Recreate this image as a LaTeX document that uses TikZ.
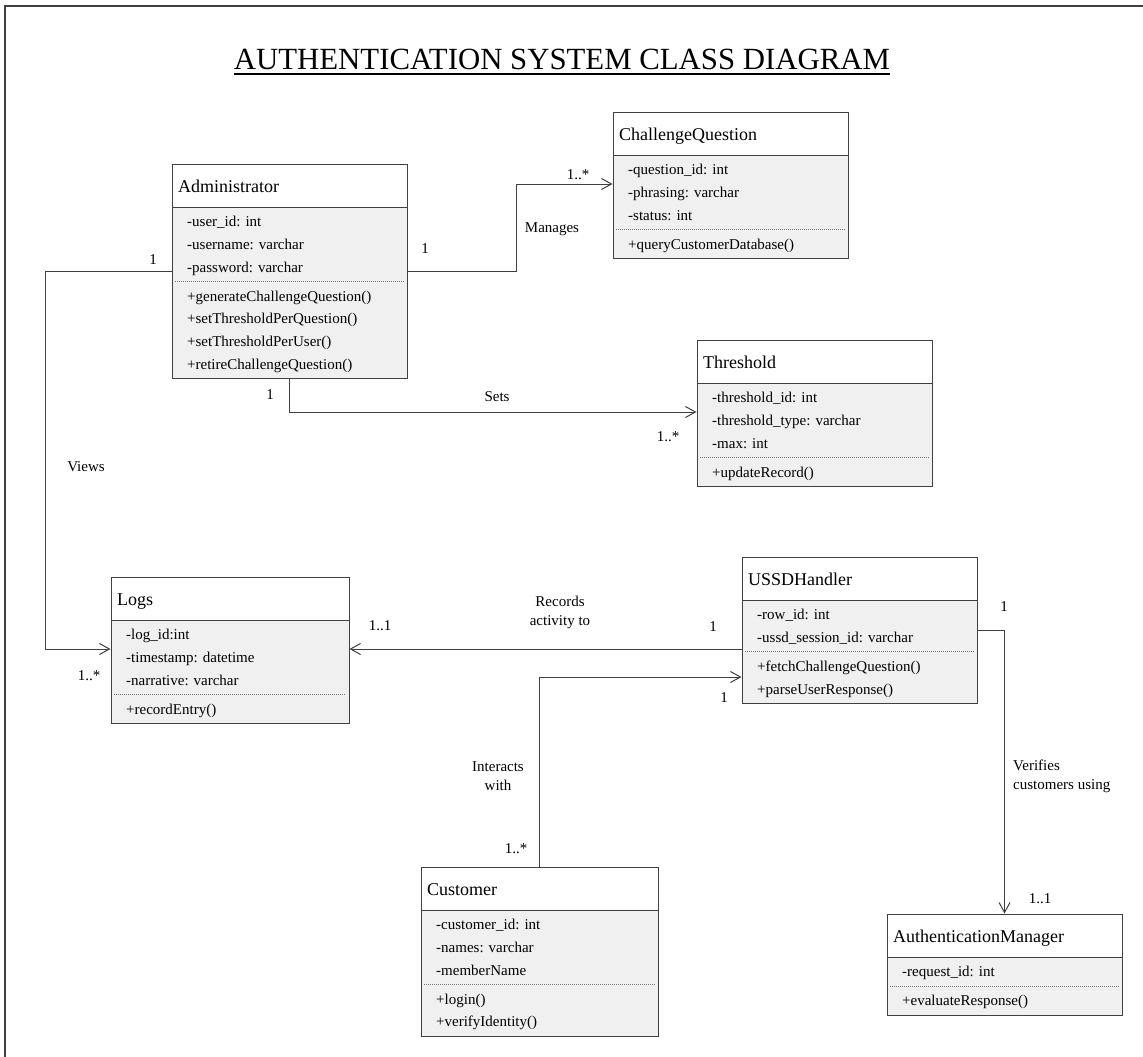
\documentclass[tikz,border=0pt]{standalone}
\usepackage{fontspec}
\setmainfont{Liberation Serif}
\usetikzlibrary{arrows.meta,fit,calc}
\definecolor{bodygray}{HTML}{F0F0F0}
\definecolor{linegray}{HTML}{404040}

\tikzset{
  classframe/.style={draw=linegray, line width=1pt, inner sep=0pt},
  classtitle/.style={font=\fontsize{18}{21}\selectfont, anchor=base west, inner sep=0pt},
  member/.style={font=\fontsize{15}{18}\selectfont, anchor=base west, inner sep=0pt},
  lbl/.style={font=\fontsize{15}{19}\selectfont, inner sep=0pt, align=center},
  assoc/.style={draw=linegray, line width=1pt,
    -{Straight Barb[length=10pt,width=11pt,line width=1pt]}},
}

% \umlclass{name}{left}{top}{right}{#attributes}{#methods}{title}{attributes}{methods}
\newcommand\umlclass[9]{%
  \pgfmathsetmacro\yHead{#3+43}%
  \pgfmathsetmacro\yDiv{\yHead+#5*22.7+6.5}%
  \pgfmathsetmacro\yBot{\yDiv+#6*22.7+6.5}%
  \fill[white] (#2,#3) rectangle (#4,\yHead);
  \fill[bodygray] (#2,\yHead) rectangle (#4,\yBot);
  \draw[linegray, line width=1pt] (#2,\yHead) -- (#4,\yHead);
  \draw[black!55, line width=1pt, dash pattern=on 1pt off 1pt] (#2+3,\yDiv) -- (#4-3,\yDiv);
  \node[classframe, fit={(#2,#3) (#4,\yBot)}] (#1) {};
  \node[classtitle] (#1-title) at (#2+6,#3+28) {#7};
  \foreach \m [count=\i] in {#8}
    \node[member] (#1-a\i) at (#2+15,\yHead+3.25+22.7*\i-11.35+5) {\m};
  \foreach \m [count=\i] in {#9}
    \node[member] (#1-m\i) at (#2+15,\yDiv+3.25+22.7*\i-11.35+5) {\m};
}

\begin{document}
\begin{tikzpicture}[x=1pt,y=-1pt]
\useasboundingbox (0,0) rectangle (1143,1057);
\fill[white] (0,0) rectangle (1143,1057);

% page frame
\draw[linegray, line width=1.5pt] (5,1057) -- (5,6) -- (1143,6);

% heading
\node[font=\fontsize{30.8}{36}\selectfont, anchor=base, inner sep=0pt] (title) at (562,70)
  {AUTHENTICATION SYSTEM CLASS DIAGRAM};
\draw[black, line width=1.2pt] ([yshift=-4pt]title.base west) -- ([yshift=-4pt]title.base east);

% classes
\umlclass{adm}{172}{164}{407}{3}{4}{Administrator}
  {-user\_id: int, -username: varchar, -password: varchar}
  {+generateChallengeQuestion(), +setThresholdPerQuestion(), +setThresholdPerUser(), +retireChallengeQuestion()}

\umlclass{cq}{613}{112}{848}{3}{1}{ChallengeQuestion}
  {-question\_id: int, -phrasing: varchar, -status: int}
  {+queryCustomerDatabase()}

\umlclass{thr}{697}{340}{932}{3}{1}{Threshold}
  {-threshold\_id: int, -threshold\_type: varchar, -max: int}
  {+updateRecord()}

\umlclass{logs}{111}{577}{349}{3}{1}{Logs}
  {-log\_id:int, -timestamp: datetime, -narrative: varchar}
  {+recordEntry()}

\umlclass{ussd}{742}{557}{977}{2}{2}{USSDHandler}
  {-row\_id: int, -ussd\_session\_id: varchar}
  {+fetchChallengeQuestion(), +parseUserResponse()}

\umlclass{cust}{421}{867}{658}{3}{2}{Customer}
  {-customer\_id: int, -names: varchar, -memberName}
  {+login(), +verifyIdentity()}

\umlclass{am}{887}{914}{1122}{1}{1}{AuthenticationManager}
  {-request\_id: int}
  {+evaluateResponse()}

% associations
\draw[assoc] (adm.east |- 0,271) -- (516,271) |- (cq.west |- 0,184);
\draw[assoc] (adm.south) |- (thr.west |- 0,412);
\draw[assoc] (adm.west |- 0,271) -- (45,271) |- (logs.west |- 0,649);
\draw[assoc] (ussd.west |- 0,649) -- (logs.east |- 0,649);
\draw[assoc] (cust.north) |- (ussd.west |- 0,677);
\draw[assoc] (ussd.east |- 0,630) -| (am.north);

% association labels and multiplicities
\node[lbl] (m-adm-cq) at (425,249) {1};
\node[lbl] (m-cq-adm) at (578,175) {1..*};
\node[lbl] (l-manages) at (552,229) {Manages};

\node[lbl] (m-adm-thr) at (270,395) {1};
\node[lbl] (l-sets) at (497,397) {Sets};
\node[lbl] (m-thr-adm) at (668,437) {1..*};

\node[lbl] (m-adm-logs) at (153,260) {1};
\node[lbl] (l-views) at (86,467) {Views};
\node[lbl] (m-logs-adm) at (89,676) {1..*};

\node[lbl] (m-logs-ussd) at (380,626) {1..1};
\node[lbl] (l-records) at (560,612) {Records\\activity to};
\node[lbl] (m-ussd-logs) at (713,627) {1};

\node[lbl] (l-interacts) at (498,776) {Interacts\\with};
\node[lbl] (m-cust-ussd) at (516,849) {1..*};
\node[lbl] (m-ussd-cust) at (724,698) {1};

\node[lbl] (m-ussd-am) at (1004,607) {1};
\node[lbl, align=left, anchor=west] (l-verifies) at (1013,776) {Verifies\\customers using};
\node[lbl] (m-am-ussd) at (1040,899) {1..1};
\end{tikzpicture}
\end{document}
